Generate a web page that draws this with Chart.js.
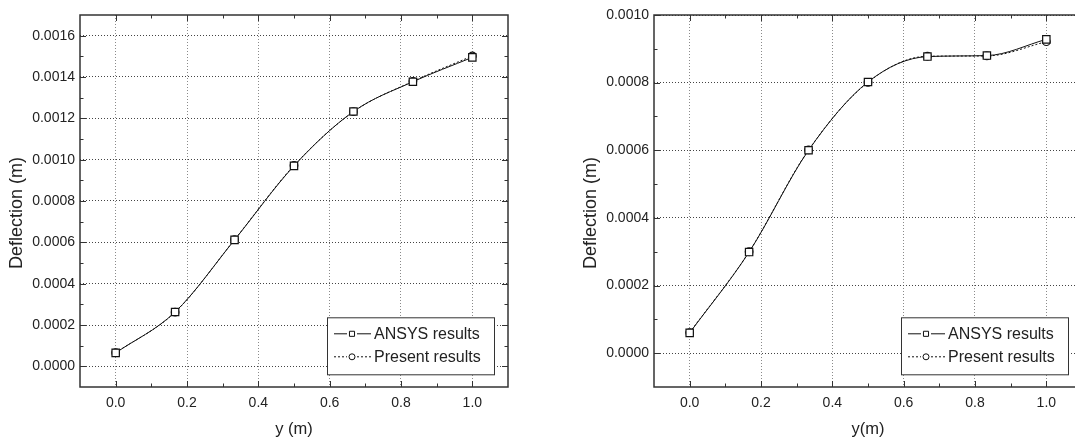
<!DOCTYPE html>
<html>
<head>
<meta charset="utf-8">
<script src="https://cdn.jsdelivr.net/npm/chart.js@4.4.1/dist/chart.umd.min.js"></script>
<style>
    html, body { margin: 0; padding: 0; background: #fff; overflow: hidden; }
    body { width: 1075px; height: 440px; position: relative; }
    canvas { position: absolute; top: 0; }
</style>
</head>
<body>
<canvas id="leftChart" width="540" height="440" style="left:0"></canvas>
<canvas id="rightChart" width="540" height="440" style="left:574px"></canvas>
<script>
// Positions along the span (m)
const positions = [0, 1 / 6, 2 / 6, 3 / 6, 4 / 6, 5 / 6, 1];

// Left panel deflections (m)
const leftAnsys = [0.000065, 0.000263, 0.000612, 0.000970, 0.001233, 0.001377, 0.001495];
const leftPresent = [0.000066, 0.000262, 0.000613, 0.000972, 0.001232, 0.001379, 0.001502];

// Right panel deflections (m)
const rightAnsys = [0.000060, 0.000299, 0.000600, 0.000802, 0.000877, 0.000880, 0.000928];
const rightPresent = [0.000061, 0.000300, 0.000601, 0.000801, 0.000878, 0.000879, 0.000921];

// Tick labels
const xTicks = [0, 0.2, 0.4, 0.6, 0.8, 1.0];
const leftYTicks = [0, 0.0002, 0.0004, 0.0006, 0.0008, 0.0010, 0.0012, 0.0014, 0.0016];
const rightYTicks = [0, 0.0002, 0.0004, 0.0006, 0.0008, 0.0010];

const sansFont = '"Liberation Sans", Arial, sans-serif';
const ink = '#222';

// minor ticks sit half way between the major ones
function minorValues(major, min, max) {
    const step = major[1] - major[0];
    const out = [];
    const eps = step * 1e-6;
    for (let i = 0; i < major.length - 1; i++) out.push((major[i] + major[i + 1]) / 2);
    if (major[0] - step / 2 > min + eps) out.unshift(major[0] - step / 2);
    if (major[major.length - 1] + step / 2 < max - eps) out.push(major[major.length - 1] + step / 2);
    return out;
}

// Frame with inward ticks on all four sides, y title, and inset legend
const framePlugin = {
    id: 'frame',
    afterDatasetsDraw(chart) {
        const { ctx, chartArea: a, scales: { x, y } } = chart;
        const line = (x1, y1, x2, y2) => {
            ctx.beginPath();
            ctx.moveTo(x1, y1);
            ctx.lineTo(x2, y2);
            ctx.stroke();
        };
        ctx.save();
        ctx.strokeStyle = '#333';
        ctx.lineWidth = 1;

        const xMajor = x.ticks.map(t => t.value);
        const yMajor = y.ticks.map(t => t.value);
        const drawX = (v, len) => {
            const px = Math.round(x.getPixelForValue(v)) + 0.5;
            line(px, a.bottom, px, a.bottom - len);
            line(px, a.top, px, a.top + len);
        };
        const drawY = (v, len) => {
            const py = Math.round(y.getPixelForValue(v)) + 0.5;
            line(a.left, py, a.left + len, py);
            line(a.right, py, a.right - len, py);
        };
        xMajor.forEach(v => drawX(v, 6));
        minorValues(xMajor, x.min, x.max).forEach(v => drawX(v, 3.5));
        yMajor.forEach(v => drawY(v, 6));
        minorValues(yMajor, y.min, y.max).forEach(v => drawY(v, 3.5));

        ctx.lineWidth = 1.5;
        ctx.strokeRect(a.left, a.top, a.right - a.left, a.bottom - a.top);
        ctx.restore();
    },
    afterDraw(chart, args, opts) {
        const { ctx, chartArea: a } = chart;
        ctx.save();

        // y axis title
        ctx.fillStyle = ink;
        ctx.font = '18px ' + sansFont;
        ctx.textAlign = 'center';
        ctx.textBaseline = 'middle';
        ctx.translate(a.left - 62.5, (a.top + a.bottom) / 2 + 12);
        ctx.rotate(-Math.PI / 2);
        ctx.fillText(opts.yTitle, 0, 0);
        ctx.setTransform(1, 0, 0, 1, 0, 0);

        // legend box
        const boxW = 167, boxH = 57;
        const left = a.right - 14 - boxW;
        const top = a.bottom - 12.7 - boxH;
        ctx.fillStyle = '#fff';
        ctx.fillRect(left, top, boxW, boxH);
        ctx.strokeStyle = '#333';
        ctx.lineWidth = 1;
        ctx.strokeRect(left + 0.5, top + 0.5, boxW, boxH);

        chart.data.datasets.forEach((ds, i) => {
            const rowY = top + 16.5 + i * 23;
            const mid = left + 25;
            ctx.strokeStyle = '#111';
            ctx.lineWidth = 1;
            ctx.setLineDash(ds.borderDash || []);
            ctx.beginPath();
            ctx.moveTo(left + 7, rowY);
            ctx.lineTo(mid - 5, rowY);
            ctx.moveTo(mid + 5, rowY);
            ctx.lineTo(left + 44, rowY);
            ctx.stroke();
            ctx.setLineDash([]);
            ctx.fillStyle = '#fff';
            ctx.strokeStyle = '#111';
            ctx.lineWidth = 1;
            Chart.helpers.drawPoint(ctx, {
                pointStyle: ds.pointStyle,
                radius: ds.pointStyle === 'rect' ? 3.6 : 3,
                borderWidth: 1,
                rotation: 0
            }, mid, rowY);
            ctx.fillStyle = ink;
            ctx.font = '16px ' + sansFont;
            ctx.textAlign = 'left';
            ctx.textBaseline = 'middle';
            ctx.fillText(ds.label, left + 47, rowY + 1);
        });
        ctx.restore();
    }
};

function makeChart(id, ansys, present, yTicks, yMax, xTitle) {
    const toPoints = vals => positions.map((p, i) => ({ x: p, y: vals[i] }));
    return new Chart(document.getElementById(id), {
        type: 'line',
        data: {
            datasets: [{
                label: 'ANSYS results',
                data: toPoints(ansys),
                borderColor: '#111',
                borderWidth: 1,
                pointStyle: 'rect',
                pointRadius: 5.2,
                pointBackgroundColor: '#fff',
                pointBorderColor: '#111',
                pointBorderWidth: 1.2,
                cubicInterpolationMode: 'monotone',
                fill: false
            }, {
                label: 'Present results',
                data: toPoints(present),
                borderColor: '#111',
                borderWidth: 1,
                borderDash: [2, 2],
                pointStyle: 'circle',
                pointRadius: 3.8,
                pointBackgroundColor: '#fff',
                pointBorderColor: '#111',
                pointBorderWidth: 1.2,
                cubicInterpolationMode: 'monotone',
                fill: false
            }]
        },
        options: {
            responsive: false,
            animation: false,
            events: [],
            layout: { padding: { top: 15, right: 32, left: 0, bottom: 0 } },
            plugins: {
                legend: { display: false },
                tooltip: { enabled: false },
                frame: { yTitle: 'Deflection (m)' }
            },
            scales: {
                x: {
                    type: 'linear',
                    min: -0.1,
                    max: 1.1,
                    afterBuildTicks: s => { s.ticks = xTicks.map(v => ({ value: v })); },
                    afterFit: s => { s.height = 53; },
                    grid: { color: '#8a8a8a', lineWidth: 1, drawTicks: false },
                    border: { display: false, dash: [1, 2] },
                    ticks: {
                        color: ink,
                        font: { family: sansFont, size: 14 },
                        padding: 8,
                        maxRotation: 0,
                        autoSkip: false,
                        callback: v => Number(v).toFixed(1)
                    },
                    title: {
                        display: true,
                        text: xTitle,
                        color: ink,
                        font: { family: sansFont, size: 16.5 },
                        padding: { top: 0, bottom: 1 }
                    }
                },
                y: {
                    type: 'linear',
                    min: -0.0001,
                    max: yMax,
                    afterBuildTicks: s => { s.ticks = yTicks.map(v => ({ value: v })); },
                    afterFit: s => { s.width = 80; },
                    grid: { color: '#444', lineWidth: 1, drawTicks: false },
                    border: { display: false, dash: [1, 2] },
                    ticks: {
                        color: ink,
                        font: { family: sansFont, size: 14 },
                        padding: 5,
                        autoSkip: false,
                        callback: v => Number(v).toFixed(4)
                    }
                }
            }
        },
        plugins: [framePlugin]
    });
}

makeChart('leftChart', leftAnsys, leftPresent, leftYTicks, 0.0017, 'y (m)');
makeChart('rightChart', rightAnsys, rightPresent, rightYTicks, 0.0010, 'y(m)');
</script>
</body>
</html>
